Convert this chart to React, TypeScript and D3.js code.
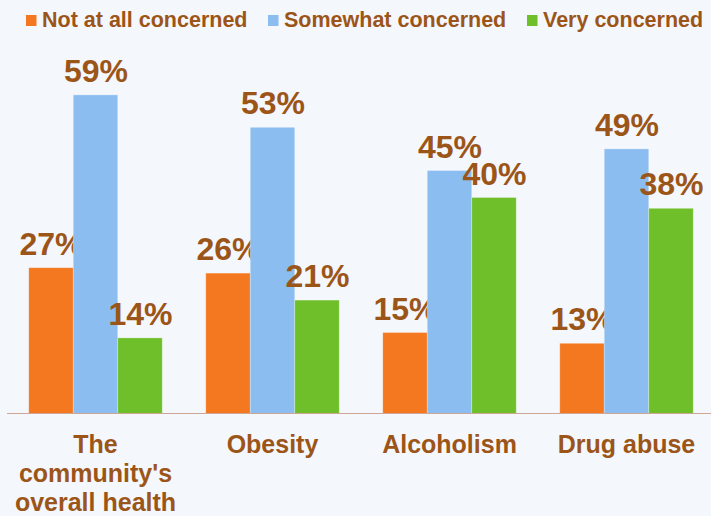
import React from "react";
import * as d3 from "d3";

const categories = ["The community's overall health", "Obesity", "Alcoholism", "Drug abuse"];
const categoryLines = [["The", "community's", "overall health"], ["Obesity"], ["Alcoholism"], ["Drug abuse"]];
const seriesNames = ["Not at all concerned", "Somewhat concerned", "Very concerned"];
const notAtAll = [27, 26, 15, 13];
const somewhat = [59, 53, 45, 49];
const very = [14, 21, 40, 38];
const seriesValues = [notAtAll, somewhat, very];
const colors = ["#f4781f", "#8bbdf0", "#6fbf2a"];

const W = 711;
const H = 516;
const TEXT = "#9c5518";
const FONT = "'Liberation Sans', Arial, sans-serif";

export default function App() {
  const baseY = 413.5;
  const x0 = d3.scaleBand<string>().domain(categories).range([7, 715]).paddingInner(0.246).paddingOuter(0.123);
  const x1 = d3.scaleBand<string>().domain(seriesNames).range([0, x0.bandwidth()]).padding(0);
  const y = d3.scaleLinear().domain([0, 60]).range([baseY, baseY - 324]);
  const legendX = [26, 268, 527];

  return (
    <svg width={W} height={H} style={{ position: "absolute", left: 0, top: 0 }} fontFamily={FONT}>
      <rect x={0} y={0} width={W} height={H} fill="#f4f7fc" />
      {/* legend */}
      {seriesNames.map((s, i) => (
        <g key={s}>
          <rect x={legendX[i]} y={15} width={10.5} height={11} fill={colors[i]} />
          <text x={legendX[i] + 16} y={26.5} fontSize={21.5} fontWeight="bold" fill={TEXT}>
            {s}
          </text>
        </g>
      ))}
      {/* bars */}
      {categories.map((c, ci) => (
        <g key={c} transform={`translate(${x0(c)},0)`}>
          {seriesNames.map((s, si) => {
            const v = seriesValues[si][ci];
            const bx = x1(s)!;
            return (
              <g key={s}>
                <rect
                  x={bx}
                  y={y(v)}
                  width={x1.bandwidth()}
                  height={baseY - y(v)}
                  fill={colors[si]}
                  stroke="#ffffff"
                  strokeOpacity={0.35}
                  strokeWidth={0.8}
                />
                <text
                  x={bx + x1.bandwidth() / 2 + 0.5}
                  y={y(v) - 13}
                  textAnchor="middle"
                  fontSize={32}
                  fontWeight="bold"
                  fill={TEXT}
                >
                  {v}%
                </text>
              </g>
            );
          })}
        </g>
      ))}
      {/* baseline */}
      <line x1={7} x2={711} y1={baseY} y2={baseY} stroke="#cfa596" strokeWidth={1.2} />
      {/* category labels */}
      {categories.map((c, ci) => (
        <text
          key={c}
          x={x0(c)! + x0.bandwidth() / 2}
          textAnchor="middle"
          fontSize={25}
          fontWeight="bold"
          fill={TEXT}
        >
          {categoryLines[ci].map((ln, li) => (
            <tspan key={li} x={x0(c)! + x0.bandwidth() / 2} y={453 + li * 28.8}>
              {ln}
            </tspan>
          ))}
        </text>
      ))}
    </svg>
  );
}
